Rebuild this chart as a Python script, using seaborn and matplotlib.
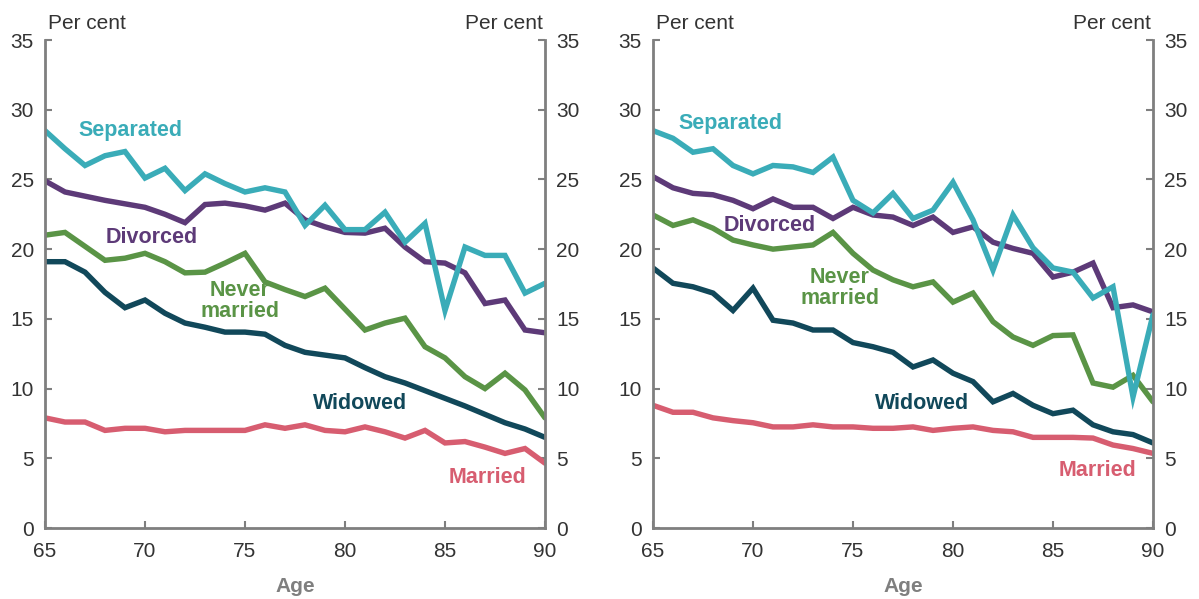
import matplotlib
matplotlib.use("Agg")
import matplotlib.pyplot as plt
from matplotlib import font_manager
import seaborn as sns
import pandas as pd
import numpy as np

ages = list(range(65, 91))

# Left panel
left_separated = [28.5, 27.2, 26.0, 26.7, 27.0, 25.1, 25.8, 24.2, 25.4, 24.7, 24.1, 24.4, 24.1,
                  21.7, 23.15, 21.4, 21.4, 22.65, 20.5, 21.85, 15.6, 20.15, 19.55, 19.55, 16.85, 17.55]
left_divorced = [24.9, 24.1, 23.8, 23.5, 23.25, 23.0, 22.5, 21.9, 23.2, 23.3, 23.1, 22.8, 23.3,
                 22.1, 21.6, 21.2, 21.15, 21.5, 20.15, 19.1, 19.0, 18.3, 16.1, 16.35, 14.2, 14.0]
left_never = [21.0, 21.2, 20.2, 19.2, 19.35, 19.7, 19.1, 18.3, 18.35, 19.0, 19.7, 17.65, 17.1,
              16.6, 17.2, 15.7, 14.2, 14.7, 15.05, 13.0, 12.2, 10.85, 10.0, 11.1, 9.9, 7.9]
left_widowed = [19.1, 19.1, 18.35, 16.9, 15.8, 16.35, 15.4, 14.7, 14.4, 14.05, 14.05, 13.9, 13.1,
                12.6, 12.4, 12.2, 11.5, 10.85, 10.4, 9.85, 9.3, 8.75, 8.15, 7.55, 7.1, 6.5]
left_married = [7.9, 7.6, 7.6, 7.0, 7.15, 7.15, 6.9, 7.0, 7.0, 7.0, 7.0, 7.4, 7.15,
                7.4, 7.0, 6.9, 7.25, 6.9, 6.45, 7.0, 6.1, 6.2, 5.8, 5.35, 5.7, 4.65]

# Right panel
right_separated = [28.5, 27.95, 26.95, 27.2, 26.0, 25.4, 26.0, 25.9, 25.5, 26.6, 23.5, 22.6, 24.0,
                   22.2, 22.8, 24.8, 22.1, 18.5, 22.45, 20.1, 18.65, 18.35, 16.5, 17.3, 9.4, 15.3]
right_divorced = [25.2, 24.4, 24.0, 23.9, 23.5, 22.9, 23.6, 23.0, 23.0, 22.2, 23.0, 22.45, 22.3,
                  21.7, 22.3, 21.2, 21.6, 20.5, 20.05, 19.7, 18.0, 18.35, 19.0, 15.8, 16.0, 15.5]
right_never = [22.45, 21.7, 22.1, 21.5, 20.65, 20.3, 20.0, 20.15, 20.3, 21.2, 19.7, 18.5, 17.8,
               17.3, 17.65, 16.2, 16.85, 14.8, 13.7, 13.1, 13.8, 13.85, 10.4, 10.1, 10.95, 9.05]
right_widowed = [18.65, 17.55, 17.3, 16.85, 15.6, 17.2, 14.9, 14.7, 14.2, 14.2, 13.3, 13.0, 12.6,
                 11.55, 12.05, 11.1, 10.5, 9.05, 9.65, 8.8, 8.2, 8.45, 7.4, 6.9, 6.7, 6.1]
right_married = [8.8, 8.3, 8.3, 7.9, 7.7, 7.55, 7.25, 7.25, 7.4, 7.25, 7.25, 7.15, 7.15,
                 7.25, 7.0, 7.15, 7.25, 7.0, 6.9, 6.5, 6.5, 6.5, 6.45, 5.95, 5.7, 5.35]

series_names = ["Separated", "Divorced", "Never married", "Widowed", "Married"]
label_texts = ["Separated", "Divorced", "Never\nmarried", "Widowed", "Married"]
colors = {"Separated": "#3aacb8", "Divorced": "#5d3a78", "Never married": "#5a9446",
          "Widowed": "#11485a", "Married": "#d75d70"}

y_ticks = [0, 5, 10, 15, 20, 25, 30, 35]
x_ticks = [65, 70, 75, 80, 85, 90]

left_label_pos = [(69.25, 28.5), (70.35, 20.8), (74.75, 16.3), (80.75, 8.95), (87.1, 3.65)]
right_label_pos = [(68.85, 29.0), (70.85, 21.7), (74.35, 17.2), (78.45, 8.95), (87.25, 4.15)]

sns.set_theme(style="white")
avail = {f.name for f in font_manager.fontManager.ttflist}
tick_family = ["Liberation Sans Narrow", "Liberation Sans", "DejaVu Sans"] if "Liberation Sans Narrow" in avail else ["Liberation Sans", "DejaVu Sans"]
plt.rcParams["font.family"] = ["Liberation Sans", "DejaVu Sans"]

fig = plt.figure(figsize=(11.99, 5.99), dpi=100)
ax_l = fig.add_axes([45 / 1199, 71 / 599, 500 / 1199, 488 / 599])
ax_r = fig.add_axes([653 / 1199, 71 / 599, 500 / 1199, 488 / 599])

panels = [
    (ax_l, [left_separated, left_divorced, left_never, left_widowed, left_married], left_label_pos),
    (ax_r, [right_separated, right_divorced, right_never, right_widowed, right_married], right_label_pos),
]

tick_color = "#333333"
spine_color = "#7f7f7f"

for ax, vals, lpos in panels:
    df = pd.concat([pd.DataFrame({"Age": ages, "Value": v, "Status": n})
                    for n, v in zip(series_names, vals)], ignore_index=True)
    sns.lineplot(data=df, x="Age", y="Value", hue="Status", hue_order=series_names[::-1],
                 palette=colors, linewidth=3.9, legend=False, ax=ax, solid_joinstyle="miter")
    ax.set_xlim(65, 90)
    ax.set_ylim(0, 35)
    ax.set_xticks(x_ticks)
    ax.set_yticks(y_ticks)
    ax.set_xlabel("")
    ax.set_ylabel("")
    for s in ["left", "right", "bottom"]:
        ax.spines[s].set_visible(True)
        ax.spines[s].set_color(spine_color)
        ax.spines[s].set_linewidth(2)
    ax.spines["top"].set_visible(False)
    ax.tick_params(axis="both", direction="in", length=5, width=1.5, color=spine_color,
                   labelsize=15, labelcolor=tick_color, pad=8)
    ax.tick_params(axis="y", left=True, right=True, labelleft=True, labelright=True)
    ax.tick_params(axis="x", bottom=True, pad=10)
    for lab in ax.get_xticklabels() + ax.get_yticklabels():
        lab.set_family(tick_family)
    ax.text(0.005, 1.015, "Per cent", transform=ax.transAxes, ha="left", va="bottom",
            fontsize=15, color=tick_color, family=tick_family)
    ax.text(0.995, 1.015, "Per cent", transform=ax.transAxes, ha="right", va="bottom",
            fontsize=15, color=tick_color, family=tick_family)
    for name, txt, (px, py) in zip(series_names, label_texts, lpos):
        ax.text(px, py, txt, color=colors[name], fontsize=15.5, fontweight="bold",
                ha="center", va="center", linespacing=1.0)
    ax.text(0.5, -0.119, "Age", transform=ax.transAxes, ha="center", va="center",
            fontsize=15, fontweight="bold", color="#7f7f7f")

fig.savefig("out.png", dpi=100, facecolor="white")
